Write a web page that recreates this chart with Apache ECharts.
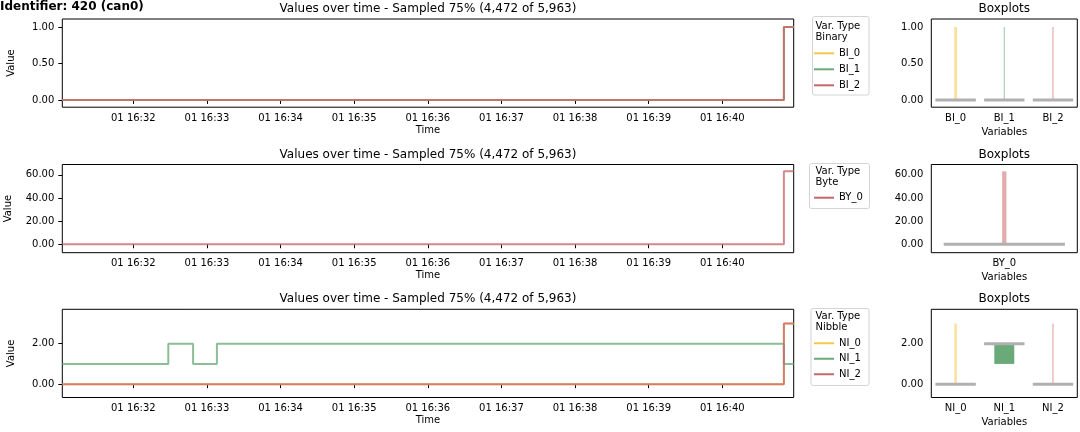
<!DOCTYPE html>
<html><head><meta charset="utf-8">
<script src="https://cdn.jsdelivr.net/npm/echarts@6/dist/echarts.min.js"></script>
<style>html,body{margin:0;padding:0;background:#fff}#c{width:1080px;height:432px}</style>
</head><body><div id="c"></div>
<script>
// ---------------- data ----------------
const DAY = '2020-01-01';
const xStart = '16:31:02.1';
const xEnd = '16:40:58.2';
const xTickTimes = ['16:32','16:33','16:34','16:35','16:36','16:37','16:38','16:39','16:40'];

const binaryNames = ['BI_0', 'BI_1', 'BI_2'];
const byteNames = ['BY_0'];
const nibbleNames = ['NI_0', 'NI_1', 'NI_2'];

// change points [time, value] (step lines)
const BI_0 = [['16:31:02.1', 0], ['16:40:50.2', 1], ['16:40:58.2', 1]];
const BI_1 = [['16:31:02.1', 0], ['16:40:50.2', 1], ['16:40:58.2', 1]];
const BI_2 = [['16:31:02.1', 0], ['16:40:50.2', 1], ['16:40:58.2', 1]];
const BY_0 = [['16:31:02.1', 0], ['16:40:50.2', 63], ['16:40:58.2', 63]];
const NI_0 = [['16:31:02.1', 0], ['16:40:50.2', 3], ['16:40:58.2', 3]];
const NI_1 = [['16:31:02.1', 1], ['16:32:28.5', 2], ['16:32:48.7', 1], ['16:33:08.1', 2], ['16:40:50.2', 1], ['16:40:58.2', 1]];
const NI_2 = [['16:31:02.1', 0], ['16:40:50.2', 3], ['16:40:58.2', 3]];

// boxplot stats: [min, q1, median, q3, max]
const binaryBox = [[0, 0, 0, 0, 1], [0, 0, 0, 0, 1], [0, 0, 0, 0, 1]];
const byteBox = [[0, 0, 0, 0, 63]];
const nibbleBox = [[0, 0, 0, 0, 3], [1, 1, 2, 2, 2], [0, 0, 0, 0, 3]];

// y tick labels
const binaryTicks = [0, 0.5, 1];
const byteTicks = [0, 20, 40, 60];
const nibbleTicks = [0, 2];

const titleText = 'Values over time - Sampled 75% (4,472 of 5,963)';
const identifierText = 'Identifier: 420 (can0)';

// ---------------- styles ----------------
const FONT = 'DejaVu Sans';
const YEL = '#f4c84a', GRN = '#6aaa78', RED = '#c8676b';
const seriesColor = {BI_0: YEL, BI_1: GRN, BI_2: RED, BY_0: RED, NI_0: YEL, NI_1: GRN, NI_2: RED};
const whiskerWidth = {BI_0: 2.7, BI_1: 1.2, BI_2: 1.2, BY_0: 4.3, NI_0: 2.4, NI_1: 1, NI_2: 1.2};

const rows = [
  {names: binaryNames, lines: [BI_0, BI_1, BI_2], box: binaryBox, ticks: binaryTicks, yMin: -0.1, yMax: 1.11, top: 19, label: 'Binary', nameGap: 46,
   legendTop: 45.3, lh: 16, frame: [812.5, 16.5, 56.5, 78.5], ltY: 21.5},
  {names: byteNames, lines: [BY_0], box: byteBox, ticks: byteTicks, yMin: -7.3, yMax: 68.9, top: 164.5, label: 'Byte', nameGap: 49,
   legendTop: 189.7, lh: 16, frame: [809.5, 163.5, 60, 45], ltY: 166.5},
  {names: nibbleNames, lines: [NI_0, NI_1, NI_2], box: nibbleBox, ticks: nibbleTicks, yMin: -0.66, yMax: 3.7, top: 309.3, label: 'Nibble', nameGap: 46,
   legendTop: 335.5, lh: 15.5, frame: [811, 308.5, 58, 77], ltY: 311.5}
];
const H = 88.2;

function ts(t) { return new Date(DAY + 'T' + (t.length === 5 ? t + ':00' : t)).getTime(); }
function pad(n) { return (n < 10 ? '0' : '') + n; }
function fmtTime(v) { const d = new Date(v); return pad(d.getDate()) + ' ' + pad(d.getHours()) + ':' + pad(d.getMinutes()); }
const xTicks = xTickTimes.map(ts);

const txt = {fontFamily: FONT, fontSize: 10, color: '#000'};
const tickStyle = {length: 4, lineStyle: {color: '#000', width: 1}};

const grid = [], xAxis = [], yAxis = [], series = [], legend = [], graphic = [];

rows.forEach((r, ri) => {
  grid.push({left: 62.3, width: 731.4, top: r.top, height: H, show: true, borderColor: '#000', borderWidth: 1, containLabel: false, outerBoundsMode: 'none'});
  grid.push({left: 931.3, width: 146, top: r.top, height: H, show: true, borderColor: '#000', borderWidth: 1, containLabel: false, outerBoundsMode: 'none'});
  xAxis.push({type: 'value', gridIndex: 2 * ri, min: ts(xStart), max: ts(xEnd), scale: true,
    axisLine: {show: false}, splitLine: {show: false},
    axisTick: Object.assign({customValues: xTicks}, tickStyle),
    axisLabel: Object.assign({customValues: xTicks, formatter: fmtTime, margin: 6, hideOverlap: false}, txt),
    name: 'Time', nameLocation: 'middle', nameGap: 18, nameTextStyle: txt});
  xAxis.push({type: 'category', gridIndex: 2 * ri + 1, data: r.names, boundaryGap: true,
    axisLine: {show: false}, splitLine: {show: false},
    axisTick: Object.assign({alignWithLabel: true}, tickStyle),
    axisLabel: Object.assign({margin: 6, interval: 0}, txt),
    name: 'Variables', nameLocation: 'middle', nameGap: 20, nameTextStyle: txt});
  const yCommon = {type: 'value', min: r.yMin, max: r.yMax, axisLine: {show: false}, splitLine: {show: false},
    axisTick: Object.assign({customValues: r.ticks}, tickStyle),
    axisLabel: Object.assign({customValues: r.ticks, formatter: v => v.toFixed(2), margin: 8}, txt)};
  yAxis.push(Object.assign({gridIndex: 2 * ri, name: 'Value', nameLocation: 'middle', nameGap: r.nameGap, nameTextStyle: txt}, yCommon));
  yAxis.push(Object.assign({gridIndex: 2 * ri + 1}, yCommon));

  r.names.forEach((n, k) => {
    series.push({type: 'line', name: n, xAxisIndex: 2 * ri, yAxisIndex: 2 * ri,
      data: r.lines[k].map(p => [ts(p[0]), p[1]]), step: 'end', showSymbol: false, symbol: 'none',
      color: seriesColor[n], lineStyle: {width: 2, opacity: 0.78}, animation: false, silent: true});
  });

  series.push({type: 'custom', xAxisIndex: 2 * ri + 1, yAxisIndex: 2 * ri + 1,
    data: r.box.map((s, i) => [i].concat(s)), encode: {x: 0, y: [1, 2, 3, 4, 5]}, animation: false, silent: true,
    renderItem: function (params, api) {
      const i = api.value(0);
      const lo = api.coord([i, api.value(1)]);
      const q1 = api.coord([i, api.value(2)]);
      const md = api.coord([i, api.value(3)]);
      const q3 = api.coord([i, api.value(4)]);
      const hi = api.coord([i, api.value(5)]);
      const band = api.size([1, 0])[0];
      const n = r.names[params.dataIndex];
      const ch = [];
      ch.push({type: 'line', shape: {x1: lo[0], y1: lo[1], x2: hi[0], y2: hi[1]},
        style: {stroke: seriesColor[n], lineWidth: whiskerWidth[n], opacity: 0.55}});
      if (q1[1] - q3[1] > 0.5) {
        ch.push({type: 'rect', shape: {x: q3[0] - band * 0.205, y: q3[1], width: band * 0.41, height: q1[1] - q3[1]},
          style: {fill: seriesColor[n]}});
      }
      ch.push({type: 'line', shape: {x1: md[0] - band * 0.415, y1: md[1], x2: md[0] + band * 0.415, y2: md[1]},
        style: {stroke: '#b0b0b0', lineWidth: 3}});
      return {type: 'group', children: ch};
    }});

  legend.push({data: r.names, left: 814, top: r.legendTop, orient: 'vertical', itemWidth: 20, itemHeight: 2, itemGap: 0,
    icon: 'rect', padding: 0, selectedMode: false, textStyle: Object.assign({lineHeight: r.lh}, txt)});

  const f = r.frame;
  graphic.push({type: 'rect', shape: {x: f[0], y: f[1], width: f[2], height: f[3], r: 2},
    style: {fill: '#fff', stroke: '#d4d4d4', lineWidth: 1}, z: 0});
  graphic.push({type: 'text', x: 815.5, y: r.ltY, style: {text: 'Var. Type\n' + r.label, font: '10px "' + FONT + '"', fill: '#000', lineHeight: 10.6, textAlign: 'left', textVerticalAlign: 'top'}, z: 1});
  const ty = r.top - 10;
  graphic.push({type: 'text', x: 428, y: ty, style: {text: titleText, font: '12px "' + FONT + '"', fill: '#000', textAlign: 'center', textVerticalAlign: 'middle'}});
  graphic.push({type: 'text', x: 1004.3, y: ty, style: {text: 'Boxplots', font: '12px "' + FONT + '"', fill: '#000', textAlign: 'center', textVerticalAlign: 'middle'}});
});
graphic.push({type: 'text', x: 0, y: 7, style: {text: identifierText, font: 'bold 12px "' + FONT + '"', fill: '#000', textAlign: 'left', textVerticalAlign: 'middle'}});

const chart = echarts.init(document.getElementById('c'), null, {renderer: 'canvas'});
chart.setOption({animation: false, backgroundColor: '#fff', textStyle: {fontFamily: FONT},
  grid, xAxis, yAxis, series, legend, graphic});
</script></body></html>
